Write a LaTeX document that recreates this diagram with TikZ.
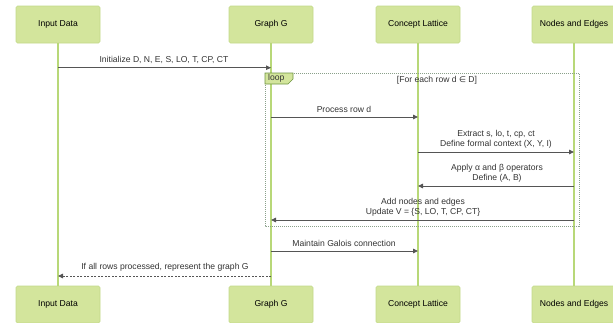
\documentclass[tikz,border=0pt]{standalone}
\usepackage{fontspec}
\setmainfont{Liberation Sans}
\newfontfamily\symfont{DejaVu Sans}
\usetikzlibrary{arrows.meta}
\definecolor{boxfill}{HTML}{D3E59C}
\definecolor{boxdraw}{HTML}{C2D98A}
\definecolor{lifec}{HTML}{B8D878}
\definecolor{msgc}{HTML}{555555}
\definecolor{txtc}{HTML}{333333}
\definecolor{loopc}{HTML}{8AA08A}
\definecolor{tabdraw}{HTML}{6E9440}
\tikzset{
  actor/.style={draw=boxdraw, fill=boxfill, rounded corners=1.5pt, minimum width=84pt, minimum height=37pt, inner sep=0pt, text=black, font=\fontsize{8.6}{10}\selectfont, line width=0.6pt},
  lifeline/.style={draw=lifec, line width=1.2pt},
  msg/.style={draw=msgc, line width=0.9pt, -{Triangle[length=5pt,width=4.5pt]}},
  rmsg/.style={msg, dashed, dash pattern=on 2pt off 1.5pt},
  lbl/.style={text=txtc, font=\fontsize{8.6}{9.6}\selectfont, align=center, inner sep=0pt},
}
\begin{document}
\begin{tikzpicture}[x=1pt,y=-1pt]
\useasboundingbox (0,0) rectangle (613,322);
% actors top
\node[actor] (inT) at (58,24.5) {Input Data};
\node[actor] (gT) at (271,24.5) {Graph G};
\node[actor] (cT) at (418,24.5) {Concept Lattice};
\node[actor] (nT) at (574,24.5) {Nodes and Edges};
% actors bottom
\node[actor] (inB) at (58,304.5) {Input Data};
\node[actor] (gB) at (271,304.5) {Graph G};
\node[actor] (cB) at (418,304.5) {Concept Lattice};
\node[actor] (nB) at (574,304.5) {Nodes and Edges};
% lifelines
\draw[lifeline] (inT.south) -- (inB.north);
\draw[lifeline] (gT.south) -- (gB.north);
\draw[lifeline] (cT.south) -- (cB.north);
\draw[lifeline] (nT.south) -- (nB.north);
% loop frame
\draw[loopc, line width=0.6pt, dash pattern=on 1pt off 1pt] (265,73) rectangle (579,226);
\draw[tabdraw, fill=boxfill, line width=0.6pt] (265,73) -- (293,73) -- (293,79) -- (288,84) -- (265,84) -- cycle;
\node[lbl, anchor=west] (looplbl) at (268,78.5) {loop};
\node[lbl] (cond) at (437,80) {[For each row d {\symfont\fontsize{8}{9}\selectfont ∈} D]};
% coordinates on lifelines
\coordinate (i1) at (58,67.7);
\coordinate (g1) at (271,67.7);
\coordinate (g2) at (271,117);
\coordinate (c2) at (418,117);
\coordinate (c3) at (418,152);
\coordinate (n3) at (574,152);
\coordinate (n4) at (574,186);
\coordinate (c4) at (418,186);
\coordinate (n5) at (574,220);
\coordinate (g5) at (271,220);
\coordinate (g6) at (271,251);
\coordinate (c6) at (418,251);
\coordinate (g7) at (271,276);
\coordinate (i7) at (58,276);
% messages
\draw[msg] (i1) -- (g1);
\node[lbl] (m1) at (164,59.5) {Initialize D, N, E, S, LO, T, CP, CT};
\draw[msg] (g2) -- (c2);
\node[lbl] (m2) at (344,109.5) {Process row d};
\draw[msg] (c3) -- (n3);
\node[lbl] (m3) at (496,139) {Extract s, lo, t, cp, ct\\Define formal context (X, Y, I)};
\draw[msg] (n4) -- (c4);
\node[lbl] (m4) at (497,173.5) {Apply α and β operators\\Define (A, B)};
\draw[msg] (n5) -- (g5);
\node[lbl] (m5) at (423,207.5) {Add nodes and edges\\Update V = \{S, LO, T, CP, CT\}};
\draw[msg] (g6) -- (c6);
\node[lbl] (m6) at (344,243) {Maintain Galois connection};
\draw[rmsg] (g7) -- (i7);
\node[lbl] (m7) at (165,267.5) {If all rows processed, represent the graph G};
\end{tikzpicture}
\end{document}
